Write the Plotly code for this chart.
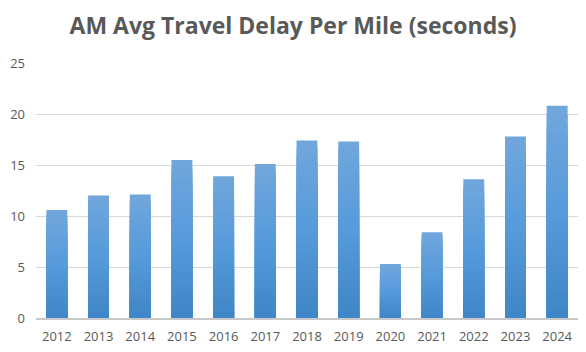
import plotly.graph_objects as go

years = ["2012", "2013", "2014", "2015", "2016", "2017", "2018",
         "2019", "2020", "2021", "2022", "2023", "2024"]
delay = [10.6, 12.0, 12.1, 15.5, 13.9, 15.1, 17.4, 17.3, 5.3, 8.4, 13.6, 17.8, 20.8]
y_ticks = [0, 5, 10, 15, 20, 25]

# vertical gradient styling: top -> middle -> bottom colours
top_rgb = (114, 166, 220)
mid_rgb = (86, 155, 219)
bot_rgb = (63, 134, 199)


def grad_color(t):
    # t = 1 at top, 0 at bottom
    if t >= 0.5:
        a, b, s = mid_rgb, top_rgb, (t - 0.5) / 0.5
    else:
        a, b, s = bot_rgb, mid_rgb, t / 0.5
    r = [round(a[i] + (b[i] - a[i]) * s) for i in range(3)]
    return f"rgb({r[0]},{r[1]},{r[2]})"


steps = 24
fig = go.Figure()
for k in range(steps, 0, -1):
    frac = k / steps
    fig.add_trace(go.Bar(
        x=years, y=[v * frac for v in delay],
        marker=dict(color=grad_color((k - 0.5) / steps), line=dict(width=0)),
        hoverinfo="skip" if k != steps else None,
        hovertemplate="%{x}: %{y}<extra></extra>" if k == steps else None,
    ))

fig.update_layout(
    width=586, height=352,
    margin=dict(l=36, r=8, t=63, b=34),
    paper_bgcolor="white", plot_bgcolor="white",
    barmode="overlay",
    bargap=0.5,
    showlegend=False,
    title=dict(text="<b>AM Avg Travel Delay Per Mile (seconds)</b>",
               x=0.5, xanchor="center", y=0.927, yanchor="middle",
               font=dict(family="Open Sans", size=23, color="#595959")),
    font=dict(family="Open Sans", size=13, color="#595959"),
)
fig.update_xaxes(showgrid=False, showline=True, linecolor="#c8c8c8", linewidth=1.5,
                 ticks="", ticklabelstandoff=6,
                 tickfont=dict(size=13, color="#595959"))
fig.update_yaxes(range=[0, 25], tickvals=y_ticks, showgrid=True, gridcolor="#d9d9d9",
                 gridwidth=1, zeroline=False, showline=False, ticks="",
                 ticklabelstandoff=10,
                 tickfont=dict(size=13, color="#595959"))

fig.write_html("out.html")
